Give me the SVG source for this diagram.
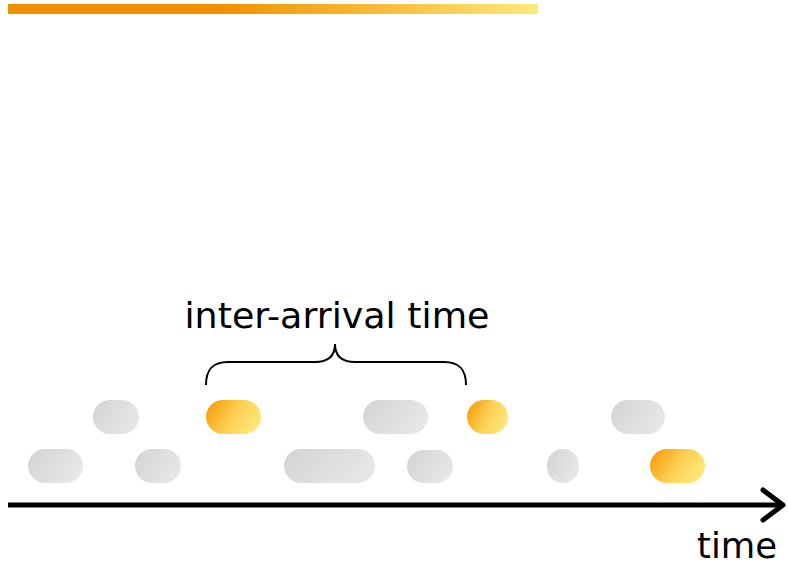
<svg xmlns="http://www.w3.org/2000/svg" width="788" height="567" viewBox="0 0 788 567">
<defs>
<linearGradient id="bar" x1="0" y1="0" x2="1" y2="0">
<stop offset="0" stop-color="#f29000"/>
<stop offset="0.4" stop-color="#f29100"/>
<stop offset="0.65" stop-color="#f8b42e"/>
<stop offset="1" stop-color="#ffe97a"/>
</linearGradient>
<linearGradient id="gray" x1="0" y1="0.3" x2="1" y2="0.7">
<stop offset="0" stop-color="#d5d5d5"/>
<stop offset="1" stop-color="#e8e8e8"/>
</linearGradient>
<linearGradient id="orange" x1="0" y1="0.3" x2="1" y2="0.7">
<stop offset="0" stop-color="#f5a00e"/>
<stop offset="0.5" stop-color="#fdd055"/>
<stop offset="1" stop-color="#ffe97c"/>
</linearGradient>
<style>
.g{fill:url(#gray)}
.o{fill:url(#orange)}
.t{font-family:"DejaVu Sans",Verdana,sans-serif;fill:#000}
</style>
</defs>
<rect x="8" y="4" width="530" height="10" fill="url(#bar)"/>
<g id="row1">
<rect id="p1" class="g" x="93" y="400" width="46" height="34" rx="17"/>
<rect id="p2" class="o" x="206" y="400" width="55" height="34" rx="17"/>
<rect id="p3" class="g" x="363" y="400" width="65" height="34" rx="17"/>
<rect id="p4" class="o" x="467" y="400" width="41" height="34" rx="17"/>
<rect id="p5" class="g" x="611" y="400" width="54" height="34" rx="17"/>
</g>
<g id="row2">
<rect id="q1" class="g" x="28" y="449" width="55" height="34" rx="17"/>
<rect id="q2" class="g" x="135" y="449" width="46" height="34" rx="17"/>
<rect id="q3" class="g" x="284" y="449" width="91" height="34" rx="17"/>
<rect id="q4" class="g" x="407" y="450" width="46" height="33" rx="16.5"/>
<rect id="q5" class="g" x="547" y="449" width="32" height="34" rx="16"/>
<rect id="q6" class="o" x="650" y="449" width="55" height="34" rx="17"/>
</g>
<g id="connectors" fill="none" stroke="#000">
<path d="M8,505 H783" stroke-width="5"/>
<path d="M763,490 L783,505 L763,520" stroke-width="5" stroke-linecap="round" stroke-linejoin="round"/>
<path d="M206,385 C206,370 212,362 228,362 H315 C330,362 335,355 335,344 C335,355 340,362 355,362 H444 C460,362 466,370 466,385" stroke-width="2"/>
</g>
<text id="label" class="t" x="337" y="328" font-size="36" text-anchor="middle" textLength="305" lengthAdjust="spacingAndGlyphs">inter-arrival time</text>
<text id="axis-label" class="t" x="737" y="558" font-size="36" text-anchor="middle" textLength="80" lengthAdjust="spacingAndGlyphs">time</text>
</svg>
